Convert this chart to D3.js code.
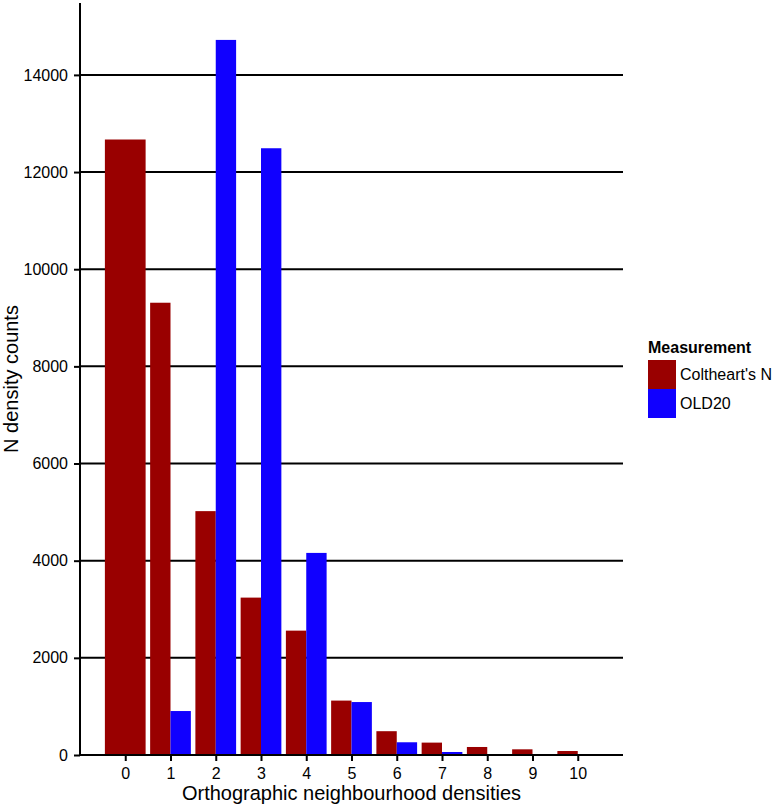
<!DOCTYPE html>
<html>
<head>
<meta charset="utf-8">
<script src="https://cdn.jsdelivr.net/npm/d3@7"></script>
<style>
  body { margin: 0; background: #fff; }
  text { font-family: "Liberation Sans", Arial, sans-serif; fill: #000; }
</style>
</head>
<body>
<svg id="chart" width="776" height="806"></svg>
<script>
// neighbourhood density categories
const categories = [0, 1, 2, 3, 4, 5, 6, 7, 8, 9, 10];
// counts per measurement (null = no bar in that group)
const coltheart = [12670, 9310, 5020, 3240, 2560, 1120, 490, 255, 165, 117, 82];
const old20 = [null, 905, 14720, 12490, 4160, 1090, 262, 62, 0, 0, 0];
const yTicks = [0, 2000, 4000, 6000, 8000, 10000, 12000, 14000];
const seriesNames = ["Coltheart's N", "OLD20"];
const colors = ["#990000", "#1000ff"];

const svg = d3.select("#chart");
const plotLeft = 80, plotRight = 623, plotTop = 3, plotBottom = 755;

const x = d3.scaleLinear().domain([-1, 11]).range([plotLeft, plotRight]);
const y = d3.scaleLinear().domain([0, 15480]).range([plotBottom, plotTop]);
const bw = 0.9;

// build bar records, dodge when both series are present
const bars = [];
categories.forEach((c, i) => {
    const vals = [coltheart[i], old20[i]];
    const present = vals.map((v, k) => ({ v, k })).filter(d => d.v !== null);
    const w = bw / present.length;
    present.forEach((d, j) => {
        bars.push({ x0: c - bw / 2 + j * w, x1: c - bw / 2 + (j + 1) * w, v: d.v, k: d.k });
    });
});

// gridlines
svg.append("g")
    .selectAll("line")
    .data(yTicks.filter(t => t > 0))
    .enter()
    .append("line")
    .attr("x1", plotLeft)
    .attr("x2", plotRight)
    .attr("y1", d => y(d))
    .attr("y2", d => y(d))
    .attr("stroke", "#000")
    .attr("stroke-width", 2);

// bars
svg.append("g")
    .selectAll("rect")
    .data(bars)
    .enter()
    .append("rect")
    .attr("x", d => x(d.x0))
    .attr("width", d => x(d.x1) - x(d.x0))
    .attr("y", d => y(d.v))
    .attr("height", d => y(0) - y(d.v))
    .attr("fill", d => colors[d.k]);

// y axis
const yAxis = svg.append("g")
    .attr("transform", `translate(${plotLeft},0)`)
    .call(d3.axisLeft(y).tickValues(yTicks).tickFormat(d3.format("d")).tickSize(6).tickPadding(6).tickSizeOuter(0));
yAxis.select(".domain").attr("stroke-width", 2).attr("d", `M0,${plotTop}V${plotBottom}`);
yAxis.selectAll(".tick line").attr("stroke-width", 2);
yAxis.selectAll(".tick text").style("font-size", "16px").attr("fill", "#000");

// x axis
const xAxis = svg.append("g")
    .attr("transform", `translate(0,${plotBottom})`)
    .call(d3.axisBottom(x).tickValues(categories).tickFormat(d3.format("d")).tickSize(6).tickPadding(7).tickSizeOuter(0));
xAxis.select(".domain").attr("stroke-width", 2).attr("d", `M${plotLeft},0H${plotRight}`);
xAxis.selectAll(".tick line").attr("stroke-width", 2);
xAxis.selectAll(".tick text").style("font-size", "16px").attr("fill", "#000");

// axis titles
svg.append("text")
    .attr("x", (plotLeft + plotRight) / 2)
    .attr("y", 800)
    .attr("text-anchor", "middle")
    .style("font-size", "20px")
    .text("Orthographic neighbourhood densities");

svg.append("text")
    .attr("transform", `translate(18,${(plotTop + plotBottom) / 2}) rotate(-90)`)
    .attr("text-anchor", "middle")
    .style("font-size", "20px")
    .text("N density counts");

// legend
const legend = svg.append("g").attr("transform", "translate(648,0)");
legend.append("text")
    .attr("x", 0)
    .attr("y", 353)
    .style("font-size", "16px")
    .style("font-weight", "bold")
    .text("Measurement");

const items = legend.selectAll("g.item")
    .data(seriesNames)
    .enter()
    .append("g")
    .attr("class", "item")
    .attr("transform", (d, i) => `translate(0, ${360 + i * 29})`);

items.append("rect")
    .attr("width", 28)
    .attr("height", 29)
    .attr("fill", (d, i) => colors[i]);

items.append("text")
    .attr("x", 32)
    .attr("y", 20)
    .style("font-size", "16px")
    .text(d => d);
</script>
</body>
</html>
